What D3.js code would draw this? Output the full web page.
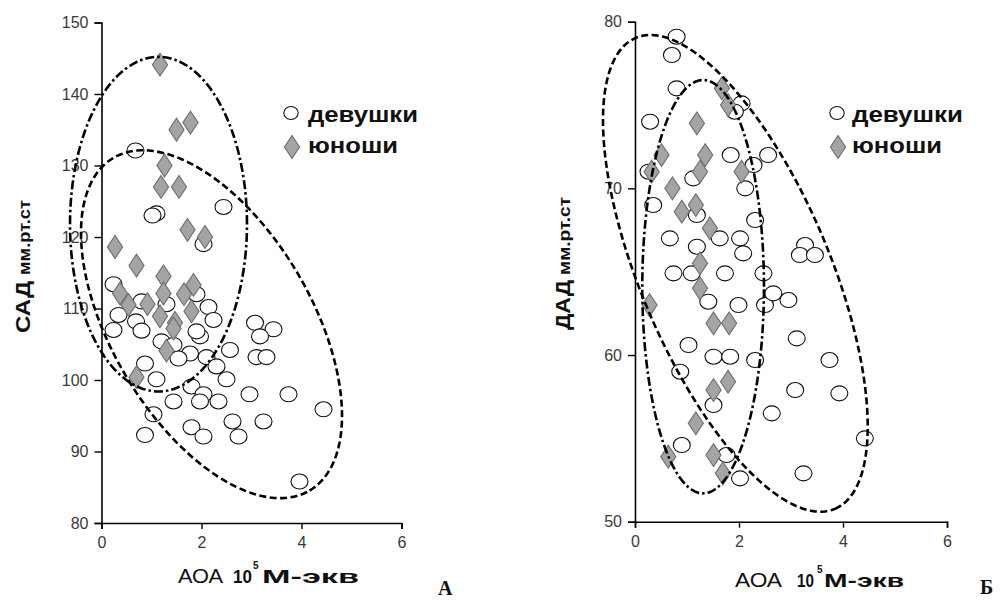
<!DOCTYPE html>
<html>
<head>
<meta charset="utf-8">
<script src="https://cdn.jsdelivr.net/npm/d3@7"></script>
<style>
  html, body { margin: 0; padding: 0; background: #fff; }
  svg { display: block; }
</style>
</head>
<body>
<svg id="chart" width="1003" height="601"></svg>
<script>
// АОА (10^5 М-экв) vs systolic pressure (САД), girls
const sadGirls = [
  [0.68,132.1],[1.10,123.3],[1.02,123.0],[2.44,124.2],[2.04,119.0],
  [0.24,113.4],[0.34,109.1],[0.80,111.0],[2.14,110.2],[0.24,107.0],
  [0.69,108.2],[0.80,106.9],[2.24,108.4],[1.97,106.1],[1.90,106.8],
  [1.20,105.4],[1.44,104.9],[1.77,103.7],[1.54,103.0],[2.10,103.2],
  [2.57,104.2],[3.07,108.0],[3.44,107.1],[3.17,106.1],[3.10,103.2],
  [3.30,103.2],[0.87,102.3],[1.10,100.1],[2.30,101.9],[2.50,100.1],
  [1.80,99.1],[1.44,97.0],[2.04,98.0],[1.97,97.0],[2.34,97.0],
  [2.96,98.0],[3.74,98.0],[4.44,95.9],[1.04,95.2],[0.87,92.3],
  [1.80,93.4],[2.04,92.1],[2.62,94.2],[2.74,92.1],[3.24,94.2],
  [3.96,85.8],[1.90,112.0],[1.30,110.6]
];
// АОА vs САД, boys
const sadBoys = [
  [1.17,144.1],[1.50,135.0],[1.78,136.0],[1.26,130.0],[1.19,127.0],
  [1.55,127.0],[1.72,121.0],[2.07,120.0],[0.27,118.6],[0.70,116.0],
  [1.24,114.5],[1.84,113.3],[0.37,112.1],[1.24,112.1],[1.65,112.0],
  [0.54,110.5],[0.92,110.6],[1.80,109.6],[1.17,108.9],[1.47,108.0],
  [1.44,107.2],[1.30,104.1],[0.70,100.4]
];
// АОА vs diastolic pressure (ДАД), girls
const dadGirls = [
  [0.80,79.1],[0.71,78.0],[0.80,76.0],[0.29,74.0],[2.05,75.1],
  [1.92,74.6],[1.84,72.0],[2.56,72.0],[0.26,71.0],[2.28,71.4],
  [1.12,70.6],[2.12,70.0],[0.35,69.0],[1.19,68.4],[2.31,68.1],
  [0.67,67.0],[1.19,66.5],[1.63,67.0],[2.02,67.0],[2.08,66.1],
  [3.27,66.6],[3.17,66.0],[3.46,66.0],[0.74,64.9],[1.09,64.9],
  [1.73,64.9],[2.47,64.9],[1.41,63.2],[1.99,63.0],[2.50,63.0],
  [2.66,63.7],[2.95,63.3],[1.03,60.6],[3.11,61.0],[1.51,59.9],
  [1.83,59.9],[2.31,59.7],[3.74,59.7],[0.87,59.0],[3.08,57.9],
  [3.93,57.7],[1.51,57.0],[2.63,56.5],[4.42,55.0],[0.90,54.6],
  [1.76,54.0],[2.02,52.6],[3.24,52.9]
];
// АОА vs ДАД, boys
const dadBoys = [
  [1.67,76.0],[1.79,75.0],[1.19,73.9],[0.51,72.0],[1.35,72.0],
  [0.32,71.0],[1.25,71.0],[2.05,71.0],[0.72,70.0],[1.17,69.0],
  [0.90,68.6],[1.44,67.6],[1.25,65.5],[1.25,64.0],[0.28,63.0],
  [1.51,61.9],[1.81,61.9],[1.79,58.4],[1.51,57.9],[1.17,55.9],
  [0.64,53.9],[1.51,54.0],[1.69,52.9]
];

// Scatter ellipses: centre and two semi-axis vectors, in data units
const sadGirlsEllipse = { c: [2.20, 107.8], u: [1.96, -23.27], v: [1.724, 7.10] };
const sadBoysEllipse  = { c: [1.14, 121.8], u: [1.77, 0],      v: [0, 23.4] };
const dadGirlsEllipse = { c: [1.93, 64.9],  u: [1.915, -14.13], v: [1.677, 2.207] };
const dadBoysEllipse  = { c: [1.31, 64.1],  u: [1.17, 0],      v: [0, 12.4] };

const xTicks = [0, 2, 4, 6];
const sadTicks = [80, 90, 100, 110, 120, 130, 140, 150];
const dadTicks = [50, 60, 70, 80];
const legendLabels = ["девушки", "юноши"];

const panels = [
  {
    girls: sadGirls, boys: sadBoys,
    girlsEllipse: sadGirlsEllipse, boysEllipse: sadBoysEllipse,
    xRange: [101.5, 401.5], yDomain: [80, 150], yRange: [523, 22.5], yTicks: sadTicks,
    yTitle: "САД", yTitleX: 30, yTitleY: 333, yTitleLen: 52, yUnitY: 275, yUnitLen: 75,
    xTitle: { aoa: [178, 45], ten: [233, 19], five: 253, unit: [262, 97], base: 583 },
    legend: { x: 291, text: 308, lens: [110, 90] },
    letter: { t: "А", x: 438, y: 595 }
  },
  {
    girls: dadGirls, boys: dadBoys,
    girlsEllipse: dadGirlsEllipse, boysEllipse: dadBoysEllipse,
    xRange: [635, 947], yDomain: [50, 80], yRange: [521.7, 21.7], yTicks: dadTicks,
    yTitle: "ДАД", yTitleX: 570, yTitleY: 330, yTitleLen: 50, yUnitY: 275, yUnitLen: 78,
    xTitle: { aoa: [735, 47], ten: [797, 17], five: 817, unit: [824, 80], base: 587 },
    legend: { x: 837, text: 852, lens: [111, 90] },
    letter: { t: "Б", x: 980, y: 594 }
  }
];

const svg = d3.select("#chart");
svg.append("rect").attr("width", 1003).attr("height", 601).attr("fill", "#fff");

const diamond = d3.symbol().type(d3.symbolDiamond);

function ellipsePoints(e) {
  return d3.range(0, 361, 2).map(a => {
    const t = a * Math.PI / 180;
    return [e.c[0] + Math.cos(t) * e.u[0] + Math.sin(t) * e.v[0],
            e.c[1] + Math.cos(t) * e.u[1] + Math.sin(t) * e.v[1]];
  });
}

panels.forEach(p => {
  const x = d3.scaleLinear().domain([0, 6]).range(p.xRange);
  const y = d3.scaleLinear().domain(p.yDomain).range(p.yRange);
  const g = svg.append("g");

  // axes
  const yAxis = g.append("g").attr("transform", `translate(${p.xRange[0]},0)`)
    .call(d3.axisLeft(y).tickValues(p.yTicks).tickSize(7).tickPadding(6).tickFormat(d3.format("d")));
  const xAxis = g.append("g").attr("transform", `translate(0,${p.yRange[0]})`)
    .call(d3.axisBottom(x).tickValues(xTicks).tickSize(6).tickPadding(8).tickFormat(d3.format("d")));
  [yAxis, xAxis].forEach(a => {
    a.select(".domain").attr("stroke", "#000").attr("stroke-width", 1.6);
    a.selectAll(".tick line").attr("stroke", "#000").attr("stroke-width", 1.4);
    a.selectAll(".tick text").attr("fill", "#3a3a3a")
      .attr("font-family", "Liberation Sans, Arial, sans-serif").attr("font-size", 16);
  });

  // girls: open circles
  g.append("g").selectAll("ellipse").data(p.girls).join("ellipse")
    .attr("cx", d => x(d[0])).attr("cy", d => y(d[1]))
    .attr("rx", 8.5).attr("ry", 7.5)
    .attr("fill", "#fff").attr("stroke", "#111").attr("stroke-width", 1.1);

  // boys: grey diamonds
  g.append("g").selectAll("path").data(p.boys).join("path")
    .attr("d", diamond.size(150))
    .attr("transform", d => `translate(${x(d[0])},${y(d[1])}) scale(1.15,1)`)
    .attr("fill", "#a4a4a4").attr("stroke", "#6e6e6e").attr("stroke-width", 1);

  // dispersion ellipses
  const line = d3.line().x(d => x(d[0])).y(d => y(d[1])).curve(d3.curveLinearClosed);
  g.append("path").attr("d", line(ellipsePoints(p.girlsEllipse)))
    .attr("fill", "none").attr("stroke", "#000").attr("stroke-width", 2.6)
    .attr("stroke-dasharray", "7,3.5");
  g.append("path").attr("d", line(ellipsePoints(p.boysEllipse)))
    .attr("fill", "none").attr("stroke", "#000").attr("stroke-width", 2.6)
    .attr("stroke-dasharray", "9,3,2.5,3");

  // legend
  const lg = g.append("g").attr("font-family", "Liberation Sans, Arial, sans-serif")
    .attr("font-weight", "bold").attr("font-size", 22).attr("fill", "#111");
  lg.append("ellipse").attr("cx", p.legend.x).attr("cy", 113).attr("rx", 7.2).attr("ry", 6.5)
    .attr("fill", "#fff").attr("stroke", "#111").attr("stroke-width", 1.1);
  lg.append("path").attr("d", diamond.size(150))
    .attr("transform", `translate(${p.legend.x + 1},${147}) scale(1.15,1)`)
    .attr("fill", "#a4a4a4").attr("stroke", "#6e6e6e").attr("stroke-width", 1);
  legendLabels.forEach((t, i) => {
    lg.append("text").attr("x", p.legend.text).attr("y", 122 + i * 31)
      .attr("textLength", p.legend.lens[i]).attr("lengthAdjust", "spacingAndGlyphs").text(t);
  });

  // y title
  const yt = g.append("g").attr("font-family", "Liberation Sans, Arial, sans-serif")
    .attr("font-weight", "bold").attr("fill", "#111");
  yt.append("text").attr("transform", `translate(${p.yTitleX},${p.yTitleY}) rotate(-90)`)
    .attr("font-size", 21).attr("textLength", p.yTitleLen).attr("lengthAdjust", "spacingAndGlyphs")
    .text(p.yTitle);
  yt.append("text").attr("transform", `translate(${p.yTitleX},${p.yUnitY}) rotate(-90)`)
    .attr("font-size", 17).attr("textLength", p.yUnitLen).attr("lengthAdjust", "spacingAndGlyphs")
    .text("мм.рт.ст");

  // x title: "АОА 10⁵М-экв"
  const xt = g.append("g").attr("font-family", "Liberation Sans, Arial, sans-serif").attr("fill", "#111");
  const T = p.xTitle;
  xt.append("text").attr("x", T.aoa[0]).attr("y", T.base).attr("font-size", 21)
    .attr("textLength", T.aoa[1]).attr("lengthAdjust", "spacingAndGlyphs").text("АОА");
  xt.append("text").attr("x", T.ten[0]).attr("y", T.base).attr("font-size", 19).attr("font-weight", "bold")
    .attr("textLength", T.ten[1]).attr("lengthAdjust", "spacingAndGlyphs").text("10");
  xt.append("text").attr("x", T.five).attr("y", T.base - 14).attr("font-size", 10).attr("font-weight", "bold")
    .text("5");
  xt.append("text").attr("x", T.unit[0]).attr("y", T.base).attr("font-size", 19).attr("font-weight", "bold")
    .attr("textLength", T.unit[1]).attr("lengthAdjust", "spacingAndGlyphs").text("М-экв");

  // panel letter
  g.append("text").attr("x", p.letter.x).attr("y", p.letter.y)
    .attr("font-family", "Liberation Serif, Times New Roman, serif").attr("font-weight", "bold")
    .attr("font-size", 20).attr("fill", "#111").text(p.letter.t);
});
</script>
</body>
</html>
